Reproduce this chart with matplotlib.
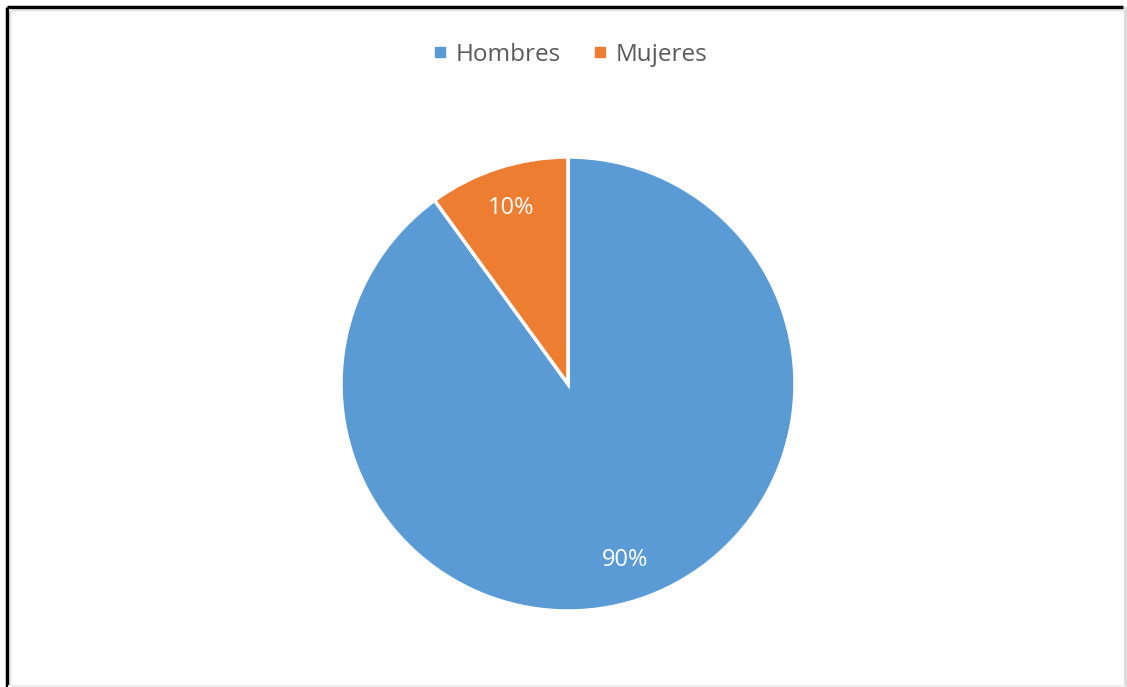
import matplotlib
matplotlib.use('Agg')
import matplotlib.pyplot as plt
from matplotlib.lines import Line2D

plt.rcParams['font.family'] = ['Open Sans', 'DejaVu Sans']

# data
labels = ['Hombres', 'Mujeres']
values = [90, 10]
colors = ['#5B9BD5', '#ED7D31']

W, H = 1127, 687
fig = plt.figure(figsize=(W / 100, H / 100), dpi=100)
ax = fig.add_axes([0, 0, 1, 1])
ax.set_xlim(0, W)
ax.set_ylim(0, H)
ax.axis('off')

# frame: dark left/top, light right/bottom
ax.plot([7, 7], [H - 7, 0], color='black', lw=2.5, solid_capstyle='butt')
ax.plot([7, W - 4], [H - 7, H - 7], color='black', lw=2.5, solid_capstyle='butt')
ax.plot([9.5, 9.5], [H - 8.5, 0], color='#e3e3e3', lw=1)
ax.plot([9, W - 3], [H - 9.5, H - 9.5], color='#e3e3e3', lw=1)
ax.plot([W - 2, W - 2], [H - 8, 0], color='#d9d9d9', lw=2)
ax.plot([9, W - 2], [1, 1], color='#eeeeee', lw=1.5)

wedges, texts, autotexts = ax.pie(
    values, colors=colors, startangle=90, counterclock=False,
    center=(568, H - 384), radius=227, autopct='%1.0f%%', pctdistance=0.815,
    wedgeprops=dict(edgecolor='white', linewidth=2.5),
    textprops=dict(color='white', fontsize=17))
ax.set_xlim(0, W)
ax.set_ylim(0, H)
ax.set_aspect('auto')

handles = [Line2D([], [], marker='s', linestyle='none', markersize=7.5,
                  markerfacecolor=c, markeredgecolor=c) for c in colors]
leg = ax.legend(handles, labels, loc='center', bbox_to_anchor=(570 / W, 1 - 55 / H),
                ncol=2, frameon=False, fontsize=17.5, handlelength=0.6,
                handletextpad=0.35, columnspacing=1.3, borderaxespad=0)
for t in leg.get_texts():
    t.set_color('#595959')

fig.savefig('out.png', dpi=100)
